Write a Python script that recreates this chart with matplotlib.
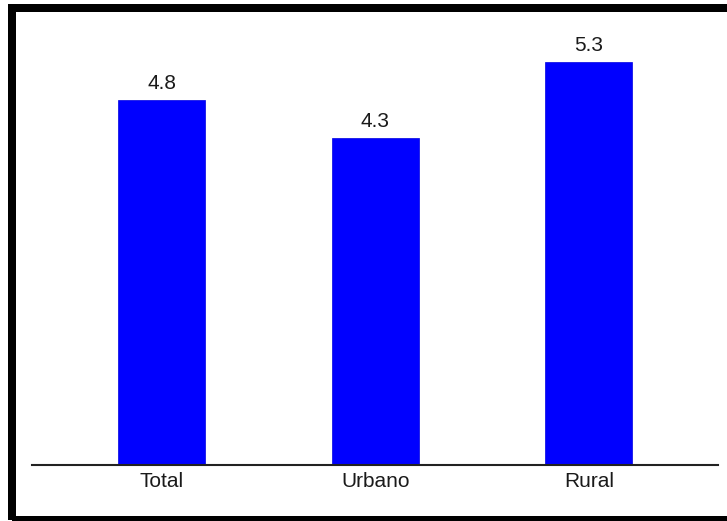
import matplotlib
matplotlib.use("Agg")
import matplotlib.pyplot as plt
from matplotlib.patches import Rectangle
from matplotlib import font_manager

categories = ["Total", "Urbano", "Rural"]
values = [4.8, 4.3, 5.3]
value_labels = ["4.8", "4.3", "5.3"]

names = {f.name for f in font_manager.fontManager.ttflist}
fam = ["Liberation Sans Narrow", "DejaVu Sans"] if "Liberation Sans Narrow" in names else ["Liberation Sans", "DejaVu Sans"]
plt.rcParams["font.family"] = fam

W, H = 727, 521
fig = plt.figure(figsize=(W / 100, H / 100), dpi=100)
fig.patch.set_facecolor("white")

left, right = 32, 718
base, top = 465, 11
ax = fig.add_axes([left / W, (H - base) / H, (right - left) / W, (base - top) / H])

x = list(range(len(categories)))
bars = ax.bar(x, values, width=0.407, color="#0000FF", edgecolor="#0000E0", linewidth=0.5, zorder=2)

ax.set_xlim(-0.606, 2.604)
ax.set_ylim(0, 5.97)

for xi, v, lab in zip(x, values, value_labels):
    ax.annotate(lab, (xi, v), xytext=(0, 5), textcoords="offset points",
                ha="center", va="bottom", fontsize=15, color="#1a1a1a")

ax.set_xticks(x)
ax.set_xticklabels(categories, fontsize=15, color="#1a1a1a")
ax.tick_params(axis="x", length=0, pad=5)
ax.set_yticks([])
for s in ["left", "right", "top"]:
    ax.spines[s].set_visible(False)
ax.spines["bottom"].set_color("#222222")
ax.spines["bottom"].set_linewidth(1.5)
ax.spines["bottom"].set_zorder(3)

# thick outer frame
lw_px = 8
fig.add_artist(Rectangle((12 / W, 1 - 520 / H), (740 - 12) / W, (520 - 7.5) / H,
                         transform=fig.transFigure, fill=False,
                         edgecolor="black", linewidth=lw_px * 72 / 100, clip_on=False))

fig.savefig("out.png", dpi=100, facecolor="white")
